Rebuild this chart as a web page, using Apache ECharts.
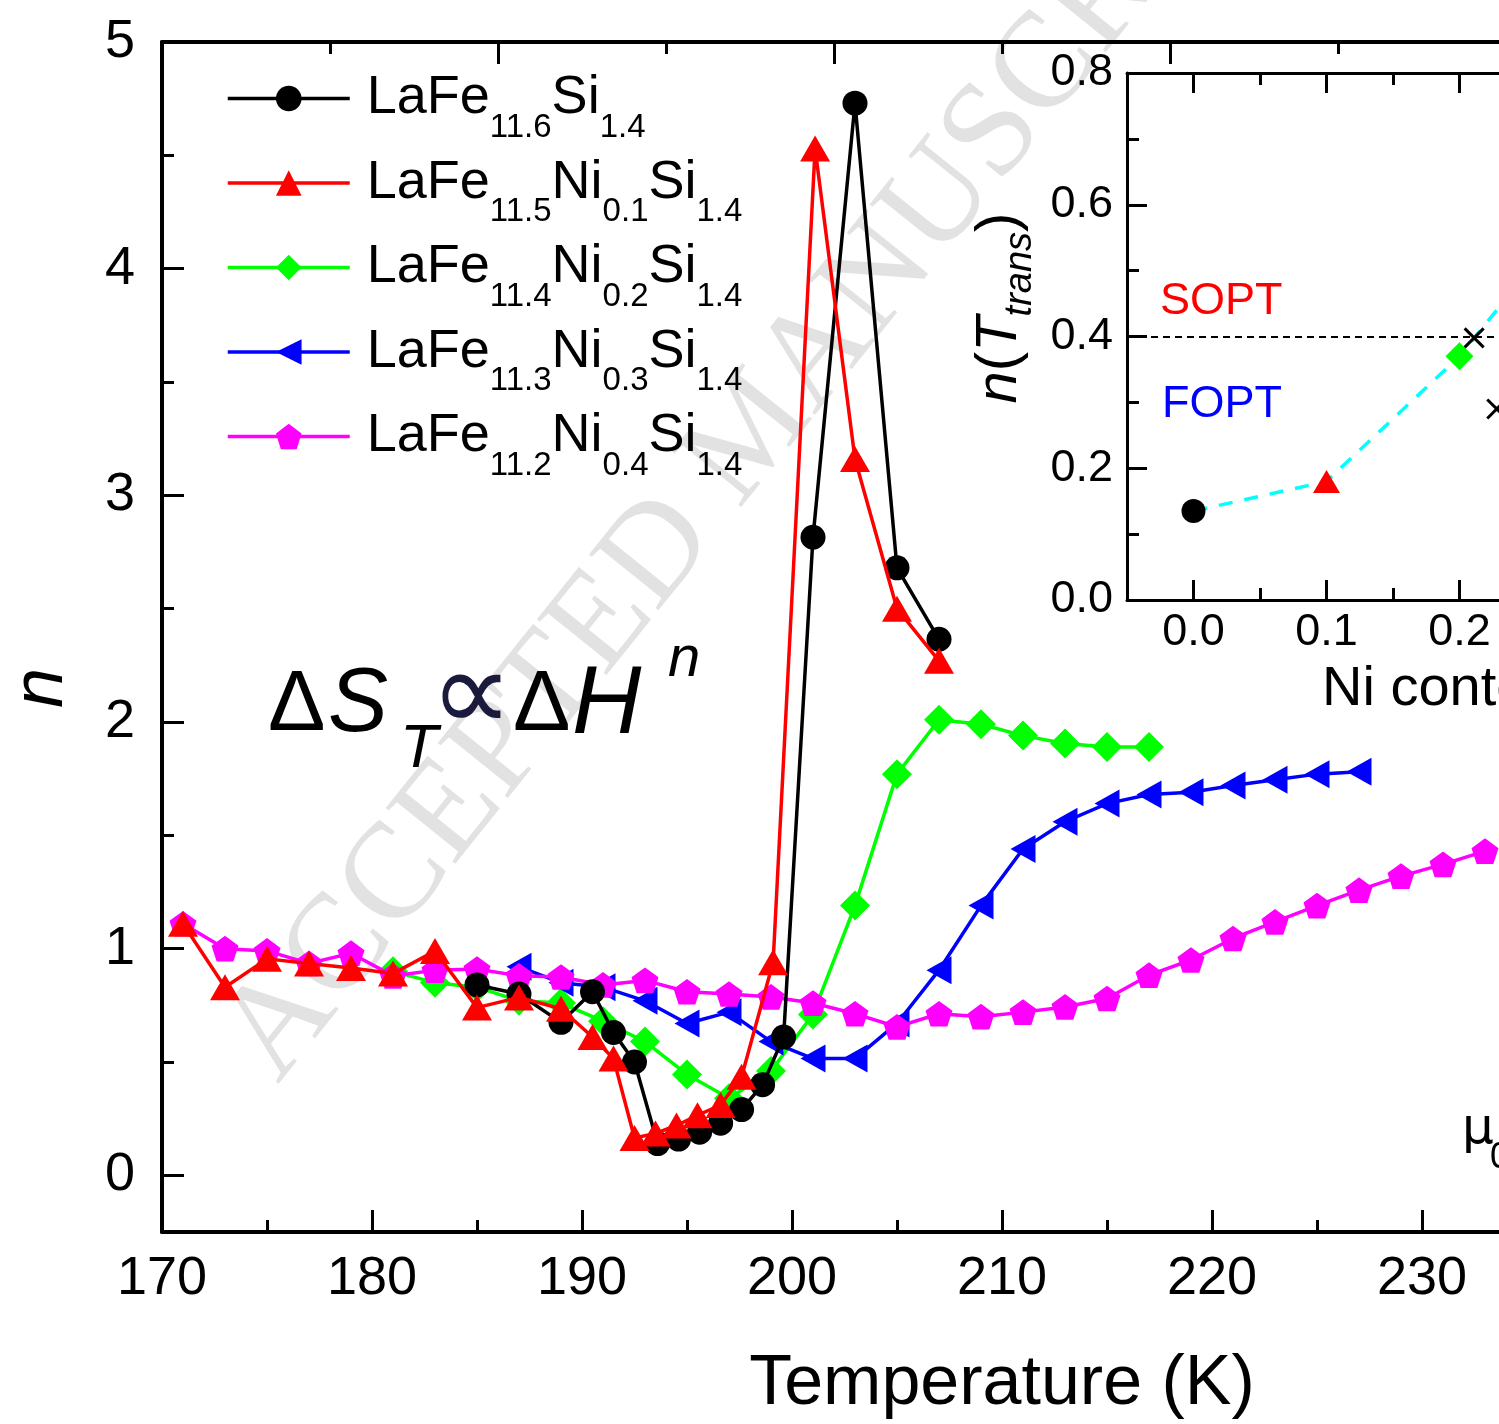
<!DOCTYPE html>
<html><head><meta charset="utf-8">
<script src="https://cdn.jsdelivr.net/npm/echarts@6/dist/echarts.min.js"></script>
<style>html,body{margin:0;padding:0;background:#fff}#c{width:1499px;height:1424px}</style>
</head><body><div id="c"></div>
<script>
// ---------- data ----------
const blackT = [185,187,189,190.5,191.5,192.5,193.6,194.6,195.6,196.6,197.6,198.6,199.6,201,203,205,207];
const blackN = [0.84,0.80,0.675,0.81,0.63,0.50,0.14,0.16,0.19,0.23,0.29,0.40,0.61,2.815,4.73,2.68,2.365];

const redT = [171,173,175,177,179,181,183,185,187,189,190.5,191.5,192.5,193.5,194.5,195.5,196.6,197.6,199.1,201.1,203,205,207];
const redN = [1.11,0.83,0.955,0.935,0.915,0.89,0.99,0.74,0.785,0.735,0.61,0.515,0.165,0.185,0.22,0.265,0.31,0.435,0.94,4.53,3.16,2.50,2.27];

const greenT = [181,183,185,187,189,191,193,195,197,199,201,203,205,207,209,211,213,215,217];
const greenN = [0.90,0.85,0.83,0.77,0.76,0.68,0.59,0.445,0.34,0.46,0.71,1.19,1.77,2.01,1.99,1.94,1.905,1.89,1.89];

const blueT = [187,189,191,193,195,197,199,201,203,205,207,209,211,213,215,217,219,221,223,225,227];
const blueN = [0.92,0.85,0.83,0.77,0.67,0.72,0.59,0.515,0.515,0.67,0.905,1.19,1.44,1.56,1.64,1.68,1.69,1.72,1.745,1.77,1.78];

const magentaT = [171,173,175,177,179,181,183,185,187,189,191,193,195,197,199,201,203,205,207,209,211,213,215,217,219,221,223,225,227,229,231,233];
const magentaN = [1.11,1.0,0.99,0.935,0.98,0.88,0.905,0.91,0.88,0.875,0.84,0.86,0.81,0.80,0.787,0.76,0.713,0.655,0.713,0.70,0.72,0.743,0.78,0.883,0.95,1.045,1.118,1.19,1.258,1.32,1.372,1.43];

const seriesNames = ['LaFe11.6Si1.4','LaFe11.5Ni0.1Si1.4','LaFe11.4Ni0.2Si1.4','LaFe11.3Ni0.3Si1.4','LaFe11.2Ni0.4Si1.4'];
const legendRich = ['LaFe{s|11.6}Si{s|1.4}','LaFe{s|11.5}Ni{s|0.1}Si{s|1.4}','LaFe{s|11.4}Ni{s|0.2}Si{s|1.4}','LaFe{s|11.3}Ni{s|0.3}Si{s|1.4}','LaFe{s|11.2}Ni{s|0.4}Si{s|1.4}'];

// inset: n at transition vs Ni content
const niContent = [0.0, 0.1, 0.2, 0.3];
const nTrans = [0.135, 0.18, 0.37, 0.62];
const crossX = [0.211, 0.228];
const crossN = [0.398, 0.29];
const boundaryN = 0.4;

const yMainTicks = [0,1,2,3,4,5];
const yMainMinor = [0.5,1.5,2.5,3.5,4.5];
const xTopTicks = [170,186,202,218,234,250];
const xTopMinor = [178,194,210,226,242];
const xInsetTicks = [0,0.1,0.2,0.3,0.4];
const xInsetMinor = [0.05,0.15,0.25,0.35];

// ---------- styles ----------
const FONT = 'Liberation Sans, Arial, sans-serif';
const PENT = 'path://M0,-1L0.951,-0.309L0.588,0.809L-0.588,0.809L-0.951,-0.309Z';
const zip = (a,b) => a.map((v,i)=>[v,b[i]]);

const chart = echarts.init(document.getElementById('c'), null, {renderer:'canvas'});

function mainSeries(name, T, N, color, symbol, size, z, extra) {
  return Object.assign({
    name, type:'line', xAxisIndex:0, yAxisIndex:0, data: zip(T,N),
    symbol, symbolSize:size, symbolKeepAspect:true, z,
    lineStyle:{color, width:3.5}, itemStyle:{color, opacity:1}, showSymbol:true, animation:false
  }, extra||{});
}

const tickStyle = w => ({color:'#000', width:w});
const line = w => ({onZero:false, lineStyle:tickStyle(w)});
const noLine = {show:false, onZero:false};

const option = {
  animation:false,
  backgroundColor:'#fff',
  grid:[
    {left:162, top:42, width:1680, height:1190, outerBoundsMode:'none', containLabel:false},
    {left:1127, top:73, width:665, height:527, outerBoundsMode:'none', containLabel:false}
  ],
  legend:{
    left:226, top:53, orient:'vertical', padding:0, itemGap:-6.5,
    itemWidth:122, itemHeight:32, data: seriesNames,
    lineStyle:{width:3.5},
    formatter: n => legendRich[seriesNames.indexOf(n)],
    textStyle:{fontFamily:FONT, fontSize:54, color:'#000', lineHeight:91, padding:[0,0,0,12],
      rich:{s:{fontFamily:FONT, fontSize:33, lineHeight:33, padding:[58,0,0,0], color:'#000'}}}
  },
  xAxis:[
    {type:'value', gridIndex:0, min:170, max:250, interval:10, position:'bottom',
     axisLine:line(4), axisTick:{inside:true, length:22, lineStyle:tickStyle(3)},
     minorTick:{show:true, splitNumber:2, length:12, lineStyle:tickStyle(3)},
     splitLine:{show:false},
     axisLabel:{fontFamily:FONT, fontSize:54, color:'#000', margin:20},
     name:'Temperature (K)', nameLocation:'middle', nameGap:118,
     nameTextStyle:{fontFamily:FONT, fontSize:70, color:'#000'}},
    {type:'value', gridIndex:0, min:170, max:250, position:'top',
     axisLine:line(4),
     axisTick:{inside:true, length:22, lineStyle:tickStyle(3), customValues:xTopTicks},
     axisLabel:{show:false, customValues:xTopTicks}, splitLine:{show:false}},
    {type:'value', gridIndex:0, min:170, max:250, position:'top',
     axisLine:noLine,
     axisTick:{inside:true, length:12, lineStyle:tickStyle(3), customValues:xTopMinor},
     axisLabel:{show:false, customValues:xTopMinor}, splitLine:{show:false}},
    {type:'value', gridIndex:1, min:-0.05, max:0.45, position:'bottom',
     axisLine:line(3),
     axisTick:{inside:true, length:20, lineStyle:tickStyle(3), customValues:xInsetTicks},
     axisLabel:{customValues:xInsetTicks, formatter:v=>v.toFixed(1), fontFamily:FONT, fontSize:45, color:'#000', margin:10},
     splitLine:{show:false}},
    {type:'value', gridIndex:1, min:-0.05, max:0.45, position:'bottom',
     axisLine:noLine,
     axisTick:{inside:true, length:12, lineStyle:tickStyle(3), customValues:xInsetMinor},
     axisLabel:{show:false, customValues:xInsetMinor}, splitLine:{show:false}},
    {type:'value', gridIndex:1, min:-0.05, max:0.45, position:'top',
     axisLine:line(3),
     axisTick:{inside:true, length:20, lineStyle:tickStyle(3), customValues:xInsetTicks},
     axisLabel:{show:false, customValues:xInsetTicks}, splitLine:{show:false}},
    {type:'value', gridIndex:1, min:-0.05, max:0.45, position:'top',
     axisLine:noLine,
     axisTick:{inside:true, length:12, lineStyle:tickStyle(3), customValues:xInsetMinor},
     axisLabel:{show:false, customValues:xInsetMinor}, splitLine:{show:false}}
  ],
  yAxis:[
    {type:'value', gridIndex:0, min:-0.25, max:5, position:'left',
     axisLine:line(4),
     axisTick:{inside:true, length:22, lineStyle:tickStyle(3), customValues:yMainTicks},
     axisLabel:{customValues:yMainTicks, fontFamily:FONT, fontSize:54, color:'#000', margin:27},
     splitLine:{show:false}},
    {type:'value', gridIndex:0, min:-0.25, max:5, position:'left',
     axisLine:noLine,
     axisTick:{inside:true, length:12, lineStyle:tickStyle(3), customValues:yMainMinor},
     axisLabel:{show:false, customValues:yMainMinor}, splitLine:{show:false}},
    {type:'value', gridIndex:0, min:-0.25, max:5, position:'right',
     axisLine:line(4),
     axisTick:{inside:true, length:22, lineStyle:tickStyle(3), customValues:yMainTicks},
     axisLabel:{show:false, customValues:yMainTicks}, splitLine:{show:false}},
    {type:'value', gridIndex:1, min:0, max:0.8, interval:0.2, position:'left',
     axisLine:line(3),
     axisTick:{inside:true, length:20, lineStyle:tickStyle(3)},
     minorTick:{show:true, splitNumber:2, length:12, lineStyle:tickStyle(3)},
     axisLabel:{formatter:v=>v.toFixed(1), fontFamily:FONT, fontSize:45, color:'#000', margin:14},
     splitLine:{show:false}},
    {type:'value', gridIndex:1, min:0, max:0.8, interval:0.2, position:'right',
     axisLine:line(3),
     axisTick:{inside:true, length:20, lineStyle:tickStyle(3)},
     axisLabel:{show:false}, splitLine:{show:false}}
  ],
  series:[
    mainSeries(seriesNames[0], blackT, blackN, '#000000', 'circle', 25, 5),
    mainSeries(seriesNames[1], redT, redN, '#ff0000', 'triangle', [30,26], 6),
    mainSeries(seriesNames[2], greenT, greenN, '#00ff00', 'diamond', 30, 2),
    mainSeries(seriesNames[3], blueT, blueN, '#0000ff', 'triangle', [28,25], 3, {symbolRotate:90}),
    mainSeries(seriesNames[4], magentaT, magentaN, '#ff00ff', PENT, 27, 4),
    {type:'line', xAxisIndex:3, yAxisIndex:3, data: zip(niContent, nTrans), symbol:'none',
     lineStyle:{color:'#00ffff', width:3.5, type:[14,12]}, z:3, animation:false,
     markLine:{silent:true, symbol:'none', label:{show:false}, animation:false,
       lineStyle:{color:'#000', width:2, type:[7,5]}, data:[{yAxis:boundaryN}]}},
    {type:'scatter', xAxisIndex:3, yAxisIndex:3, z:4, animation:false,
     data: zip(niContent, nTrans).map((p,i)=>({
       value:p,
       symbol:['circle','triangle','diamond','triangle'][i],
       symbolSize:[24,[27,23],28,[26,23]][i],
       symbolRotate:[0,0,0,90][i],
       itemStyle:{color:['#000000','#ff0000','#00ff00','#0000ff'][i], opacity:1}
     }))},
    {type:'scatter', xAxisIndex:3, yAxisIndex:3, z:5, animation:false,
     symbol:'path://M0,0L10,10M10,0L0,10', symbolSize:19,
     itemStyle:{color:'rgba(0,0,0,0)', borderColor:'#000', borderWidth:3, opacity:1},
     data: zip(crossX, crossN)}
  ],
  graphic:[
    {type:'text', x:303, y:1105, rotation:0.895, z:-10, silent:true,
     style:{text:'ACCEPTED MANUSCRIPT', fontFamily:'Liberation Serif, Times New Roman, serif',
       fontSize:136, fill:'#e2e2e2', align:'left', verticalAlign:'bottom'}},
    // y title n
    {type:'text', x:42, y:688, rotation:Math.PI/2,
     style:{text:'n', fontFamily:FONT, fontStyle:'italic', fontSize:72, fill:'#000', align:'center', verticalAlign:'middle'}},
    // formula
    {type:'text', x:268, y:706, style:{text:'Δ', fontFamily:FONT, fontSize:86, fill:'#000', verticalAlign:'middle'}},
    {type:'text', x:328, y:706, style:{text:'S', fontFamily:FONT, fontStyle:'italic', fontSize:90, fill:'#000', verticalAlign:'middle'}},
    {type:'text', x:400, y:750, style:{text:'T', fontFamily:FONT, fontStyle:'italic', fontSize:62, fill:'#000', verticalAlign:'middle'}},
    {type:'text', x:430, y:701, style:{text:'∝', fontFamily:'DejaVu Sans, sans-serif', fontSize:116, fill:'#1a1a3c', verticalAlign:'middle'}},
    {type:'text', x:513, y:706, style:{text:'Δ', fontFamily:FONT, fontSize:86, fill:'#000', verticalAlign:'middle'}},
    {type:'text', x:572, y:706, style:{text:'H', fontFamily:FONT, fontStyle:'italic', fontSize:96, fill:'#000', verticalAlign:'middle'}},
    {type:'text', x:668, y:660, style:{text:'n', fontFamily:FONT, fontStyle:'italic', fontSize:58, fill:'#000', verticalAlign:'middle'}},
    // inset labels
    {type:'text', x:1160, y:302, style:{text:'SOPT', fontFamily:FONT, fontSize:45, fill:'#ff0000', verticalAlign:'middle'}},
    {type:'text', x:1162, y:405, style:{text:'FOPT', fontFamily:FONT, fontSize:45, fill:'#0000ff', verticalAlign:'middle'}},
    {type:'text', x:1322, y:690, style:{text:'Ni content', fontFamily:FONT, fontSize:56, fill:'#000', verticalAlign:'middle'}},
    {type:'text', x:1000, y:308, rotation:Math.PI/2,
     style:{text:'{i|n}({i|T}{s|trans})', fontFamily:FONT, fontSize:58, lineHeight:80, fill:'#000',
       align:'center', verticalAlign:'middle',
       rich:{i:{fontFamily:FONT, fontStyle:'italic', fontSize:58, lineHeight:80, fill:'#000'},
             s:{fontFamily:FONT, fontStyle:'italic', fontSize:38, lineHeight:40, padding:[40,0,0,0], fill:'#000'}}}},
    {type:'text', x:1462, y:1130, style:{text:'μ', fontFamily:'DejaVu Sans, sans-serif', fontSize:50, fill:'#000', verticalAlign:'middle'}},
    {type:'text', x:1490, y:1158, style:{text:'0ΔH', fontFamily:FONT, fontSize:36, fill:'#000', verticalAlign:'middle'}}
  ]
};
chart.setOption(option);
</script></body></html>
